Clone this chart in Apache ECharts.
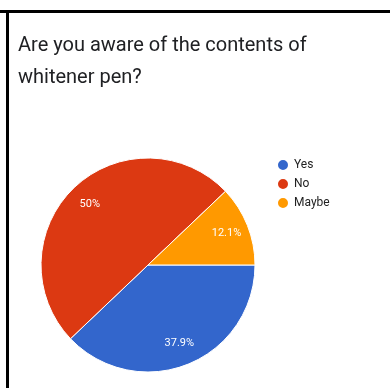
<!DOCTYPE html>
<html>
<head>
<meta charset="utf-8">
<style>
  html, body { margin: 0; padding: 0; background: #fff; }
  #chart { width: 390px; height: 388px; }
</style>
<script src="https://cdn.jsdelivr.net/npm/echarts@6/dist/echarts.min.js"></script>
</head>
<body>
<div id="chart"></div>
<script>
// Survey answers and their shares (percent)
const answers = ['Yes', 'No', 'Maybe'];
const shares = [37.9, 50, 12.1];
const sliceColors = ['#3366cc', '#dc3912', '#ff9900'];
const questionTitle = 'Are you aware of the contents of\nwhitener pen?';

const chart = echarts.init(document.getElementById('chart'), null, { renderer: 'canvas' });

const pieData = answers.map((name, i) => ({ name, value: shares[i] }));
const center = [148, 265];

chart.setOption({
  animation: false,
  color: sliceColors,
  title: {
    text: questionTitle,
    left: 18,
    top: 30,
    padding: 0,
    textStyle: {
      fontFamily: 'Roboto',
      fontSize: 20,
      fontWeight: 'normal',
      color: '#202124',
      lineHeight: 32
    }
  },
  legend: {
    orient: 'vertical',
    left: 276,
    top: 158,
    padding: 0,
    icon: 'circle',
    itemWidth: 12,
    itemHeight: 12,
    itemGap: 5,
    data: answers,
    textStyle: { fontFamily: 'Roboto', fontSize: 12, color: '#222' }
  },
  graphic: [
    // frame lines along the top and left
    { type: 'rect', shape: { x: 0, y: 10, width: 390, height: 3 }, style: { fill: '#000' } },
    { type: 'rect', shape: { x: 6, y: 10, width: 3, height: 378 }, style: { fill: '#000' } }
  ],
  series: [
    {
      type: 'pie',
      center: center,
      radius: [0, 107],
      startAngle: 0,
      clockwise: true,
      data: pieData,
      itemStyle: { borderColor: '#fff', borderWidth: 1 },
      label: { show: false },
      labelLine: { show: false },
      silent: true
    },
    {
      // transparent ring that carries the percentage labels
      type: 'pie',
      center: center,
      radius: [56, 107],
      startAngle: 0,
      clockwise: true,
      data: pieData,
      itemStyle: { color: 'rgba(0,0,0,0)' },
      label: {
        show: true,
        position: 'inside',
        formatter: (p) => p.value + '%',
        color: '#fff',
        fontFamily: 'Roboto',
        fontSize: 11
      },
      labelLine: { show: false },
      silent: true
    }
  ]
});
</script>
</body>
</html>
